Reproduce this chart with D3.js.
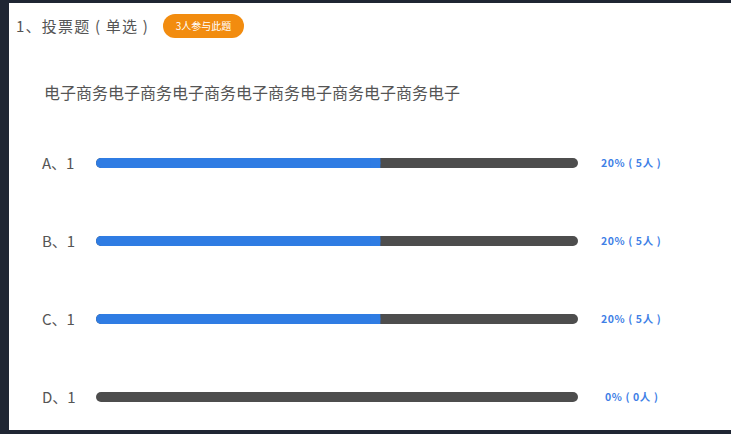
<!DOCTYPE html>
<html>
<head>
<meta charset="utf-8">
<script src="https://cdn.jsdelivr.net/npm/d3@7"></script>
<style>
  html, body { margin: 0; padding: 0; background: #1f2633; }
  svg { display: block; }
</style>
</head>
<body>
<svg id="chart" width="731" height="434"></svg>
<script>
// chart data
var title = "1、投票题 ( 单选 )";
var badge = "3人参与此题";
var question = "电子商务电子商务电子商务电子商务电子商务电子商务电子";
var options = ["A、1", "B、1", "C、1", "D、1"];
var fillShare = [0.59, 0.59, 0.59, 0];   // blue part of each bar, as drawn
var percents = [20, 20, 20, 0];
var counts = [5, 5, 5, 0];

var svg = d3.select("#chart");

// white card
svg.append("rect")
  .attr("x", 9).attr("y", 3)
  .attr("width", 722).attr("height", 427)
  .attr("fill", "#ffffff");

var font = "'Noto Sans CJK SC', 'Noto Sans', sans-serif";

svg.append("text")
  .attr("x", 16).attr("y", 32)
  .attr("font-family", font)
  .attr("font-size", "15px")
  .attr("letter-spacing", "1.2px")
  .attr("fill", "#555")
  .text(title);

// badge pill
svg.append("rect")
  .attr("x", 163).attr("y", 14)
  .attr("width", 81).attr("height", 24)
  .attr("rx", 12)
  .attr("fill", "#f28c0f");
svg.append("text")
  .attr("x", 203.5).attr("y", 30)
  .attr("text-anchor", "middle")
  .attr("font-family", font)
  .attr("font-size", "10px")
  .attr("fill", "#fff")
  .text(badge);

svg.append("text")
  .attr("x", 44).attr("y", 99)
  .attr("font-family", font)
  .attr("font-size", "16px")
  .attr("fill", "#555")
  .text(question);

var x = d3.scaleLinear().domain([0, 1]).range([96, 578]);
var y = d3.scaleBand().domain(options).range([124, 436]).padding(0);
var barH = 10;

var rows = svg.selectAll("g.row")
  .data(options)
  .enter().append("g")
  .attr("class", "row")
  .attr("transform", function(d) { return "translate(0," + (y(d) + y.bandwidth() / 2) + ")"; });

rows.append("text")
  .attr("x", 42).attr("y", 6)
  .attr("font-family", font)
  .attr("font-size", "15px")
  .attr("fill", "#555")
  .text(function(d) { return d; });

rows.append("rect")
  .attr("x", x(0)).attr("y", -barH / 2)
  .attr("width", x(1) - x(0)).attr("height", barH)
  .attr("rx", barH / 2)
  .attr("fill", "#4d4d4d");

rows.append("rect")
  .attr("x", x(0)).attr("y", -barH / 2)
  .attr("width", function(d, i) { return x(fillShare[i]) - x(0); })
  .attr("height", barH)
  .attr("rx", function(d, i) { return fillShare[i] > 0 ? barH / 2 : 0; })
  .attr("fill", "#2f7ce3");
// square off the right end of the blue part
rows.filter(function(d, i) { return fillShare[i] > 0; })
  .append("rect")
  .attr("x", function(d) { return x(fillShare[options.indexOf(d)]) - barH; })
  .attr("y", -barH / 2)
  .attr("width", barH).attr("height", barH)
  .attr("fill", "#2f7ce3");

rows.append("text")
  .attr("x", function(d, i) { return percents[i] > 0 ? 601 : 605; })
  .attr("y", 4)
  .attr("font-family", font)
  .attr("font-size", "10.5px")
  .attr("letter-spacing", "0.6px")
  .attr("font-weight", "bold")
  .attr("fill", "#3f7fe6")
  .text(function(d, i) { return percents[i] + "% ( " + counts[i] + "人 )"; });
</script>
</body>
</html>
